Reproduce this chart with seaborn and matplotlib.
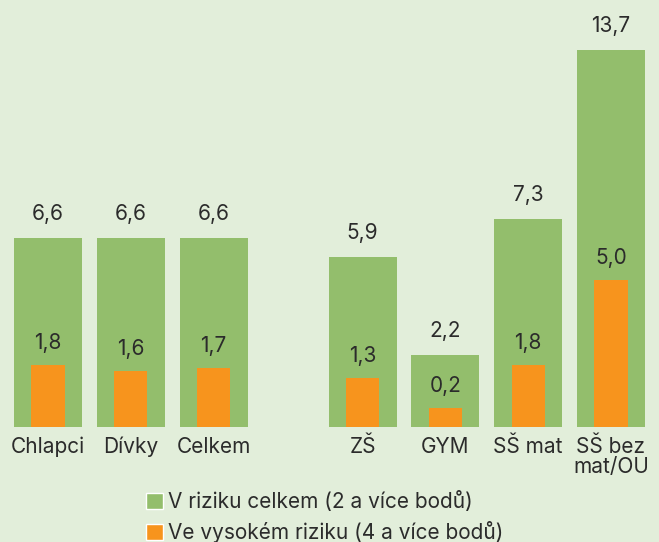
import seaborn as sns
import matplotlib.pyplot as plt
import pandas
from matplotlib.patches import Patch

# data
categories = ["Chlapci", "Dívky", "Celkem", "ZŠ", "GYM", "SŠ mat", "SŠ bez\nmat/OU"]
v_riziku = [6.6, 6.6, 6.6, 5.9, 2.2, 7.3, 13.7]
vysoke_riziko = [1.8, 1.6, 1.7, 1.3, 0.2, 1.8, 5.0]
legend_labels = ["V riziku celkem (2 a více bodů)", "Ve vysokém riziku (4 a více bodů)"]

# slot positions, second group moved a bit to the right
pos = [0, 1, 2, 3.8, 4.8, 5.8, 6.8]

green = "#93be6c"
orange = "#f7941d"
bg = "#e2eeda"
txt = "#2b2b2b"

sns.set_theme(style="white")
plt.rcParams["font.family"] = ["Inter", "DejaVu Sans"]

df = pandas.DataFrame({"pos": pos, "cat": categories,
                       "celkem": v_riziku, "vysoke": vysoke_riziko})

fig = plt.figure(figsize=(6.59, 5.42), dpi=100, facecolor=bg)
ax = fig.add_axes([0, 0.2122, 1, 0.7878])
ax.set_facecolor(bg)

sns.barplot(data=df, x="pos", y="celkem", native_scale=True, width=0.82,
            color=green, saturation=1, linewidth=0, ax=ax)
sns.barplot(data=df, x="pos", y="vysoke", native_scale=True, width=0.40,
            color=orange, saturation=1, linewidth=0, ax=ax)

# bars in the original start a little below zero
base = -0.53
for p in ax.patches:
    h = p.get_height()
    p.set_y(base)
    p.set_height(h - base)
    p.set_edgecolor("none")

for x, v in zip(pos, v_riziku):
    ax.annotate(f"{v:.1f}".replace(".", ","), (x, v), xytext=(0, 24),
                textcoords="offset pixels", ha="center", va="center",
                fontsize=15, color=txt)
for x, v in zip(pos, vysoke_riziko):
    ax.annotate(f"{v:.1f}".replace(".", ","), (x, v), xytext=(0, 22),
                textcoords="offset pixels", ha="center", va="center",
                fontsize=15, color=txt)

ax.set_xlim(-0.58, 7.38)
ax.set_ylim(base, 15.58)
ax.set_xticks(pos)
ax.set_xticklabels(categories, fontsize=15, color=txt, linespacing=1.0)
ax.tick_params(axis="x", length=0, pad=7)
ax.set_yticks([])
ax.set_xlabel("")
ax.set_ylabel("")
for s in ax.spines.values():
    s.set_visible(False)

handles = [Patch(facecolor=green), Patch(facecolor=orange)]
fig.legend(handles, legend_labels, loc="upper left", bbox_to_anchor=(0.222, 0.094),
           frameon=False, fontsize=15, handlelength=0.78, handleheight=0.78,
           handletextpad=0.25, labelspacing=0.45, borderpad=0, borderaxespad=0,
           labelcolor=txt)

plt.savefig("out.png", facecolor=bg)
